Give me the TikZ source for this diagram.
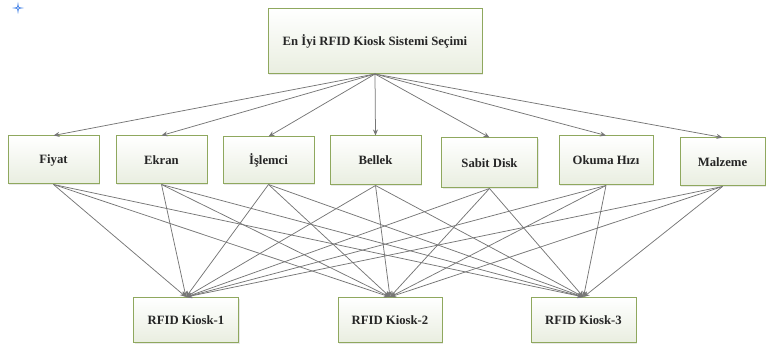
\documentclass[tikz,border=0pt]{standalone}
\usepackage{fontspec}
\setmainfont{Liberation Serif}
\usetikzlibrary{arrows.meta,shadows}
\definecolor{boxedge}{HTML}{8FA85E}
\definecolor{boxfill}{HTML}{E9EEE0}
\definecolor{linkgray}{HTML}{767676}
\definecolor{labeltext}{HTML}{262626}
\definecolor{anchorblue}{HTML}{4A86E8}
\tikzset{
  critbox/.style={draw=boxedge, line width=1pt, top color=white, bottom color=boxfill,
    text=labeltext, font=\fontsize{12.7}{14}\selectfont\bfseries, inner sep=0pt,
    drop shadow={opacity=0.18, shadow xshift=1.3pt, shadow yshift=-1.3pt}},
  link/.style={draw=linkgray, line width=0.75pt, -{Stealth[length=6pt,width=5pt]}}
}
\begin{document}
\begin{tikzpicture}[x=1pt,y=-1pt]
\useasboundingbox (0,0) rectangle (767,352);
% small blue anchor mark
\fill[anchorblue] (18,2) -- (18.9,7.1) -- (24,8) -- (18.9,8.9) -- (18,14) -- (17.1,8.9) -- (12,8) -- (17.1,7.1) -- cycle;
\fill[white] (18,8) circle (0.9);
% goal
\node[critbox, minimum width=214pt, minimum height=65pt] (goal) at (375,41) {En İyi RFID Kiosk Sistemi Seçimi};
% criteria
\node[critbox, minimum width=91pt, minimum height=48pt] (c1) at (53.5,160) {Fiyat};
\node[critbox, minimum width=91pt, minimum height=48pt] (c2) at (161.5,160) {Ekran};
\node[critbox, minimum width=91pt, minimum height=47pt] (c3) at (268.5,160.5) {İşlemci};
\node[critbox, minimum width=91pt, minimum height=49pt] (c4) at (375.5,160.5) {Bellek};
\node[critbox, minimum width=96pt, minimum height=50pt] (c5) at (489.5,163) {Sabit Disk};
\node[critbox, minimum width=94pt, minimum height=49pt] (c6) at (606,160.5) {Okuma Hızı};
\node[critbox, minimum width=85pt, minimum height=48pt] (c7) at (722.5,162) {Malzeme};
% alternatives
\node[critbox, minimum width=105pt, minimum height=45pt] (k1) at (186,320) {RFID Kiosk-1};
\node[critbox, minimum width=104pt, minimum height=45pt] (k2) at (390,320) {RFID Kiosk-2};
\node[critbox, minimum width=105pt, minimum height=45pt] (k3) at (583.5,320) {RFID Kiosk-3};
% goal -> criteria
\foreach \c in {c1,c2,c3,c4,c5,c6,c7}
  \draw[link] (goal.south) -- (\c.north);
% criteria -> alternatives
\foreach \c in {c1,c2,c3,c4,c5,c6,c7}
  \foreach \k in {k1,k2,k3}
    \draw[link] (\c.south) -- (\k.north);
\end{tikzpicture}
\end{document}
